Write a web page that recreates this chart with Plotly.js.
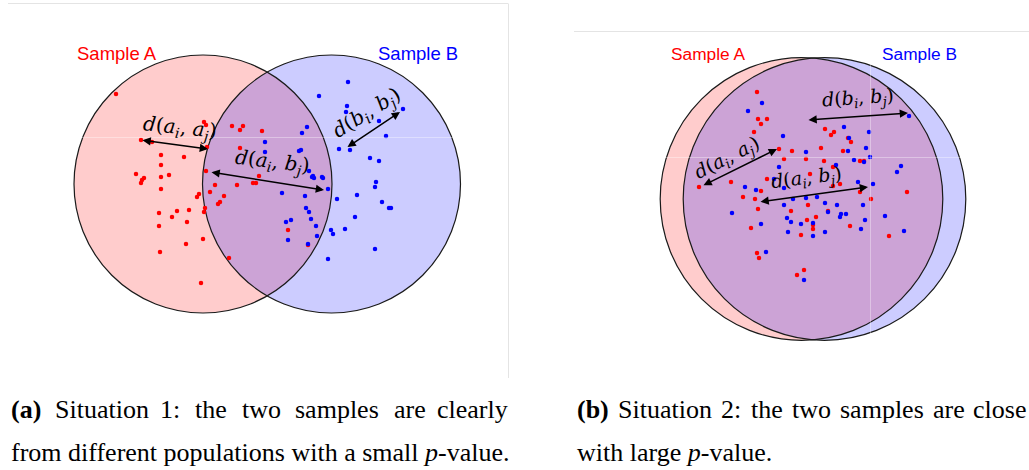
<!DOCTYPE html>
<html>
<head>
<meta charset="utf-8">
<script src="https://cdn.plot.ly/plotly-3.0.1.min.js"></script>
<style>
  html, body { margin: 0; padding: 0; background: #ffffff; }
  #chart { width: 1029px; height: 470px; }
</style>
</head>
<body>
<div id="chart"></div>
<script>
// ---- Situation 1: two separated samples ----
const circ1Cx = [203, 331.5];
const circ1Cy = [184, 184];
const circ1R = [129, 129];

const s1RedX = [116, 204, 206, 141, 152, 207, 232, 243, 240, 262, 161, 184, 240, 161, 136, 144, 142, 141, 161, 169,
                206, 259, 253, 256, 237, 215, 161, 199, 197, 210, 224, 220, 218, 159, 177, 189, 205, 204, 172, 187,
                159, 288, 203, 186, 308, 160, 229, 201];
const s1RedY = [94, 122, 125, 140, 142, 147, 126, 126, 130, 131, 155, 157, 148, 165, 174, 178, 180, 183, 177, 175,
                171, 176, 183, 183, 185, 185, 189, 194, 197, 192, 196, 202, 204, 213, 211, 210, 208, 212, 217, 222,
                226, 230, 239, 244, 245, 252, 258, 283];

const s1BlueX = [348, 319, 347, 346, 403, 379, 307, 302, 386, 265, 339, 350, 299, 301, 265, 370, 379, 309, 312, 314,
                 313, 322, 323, 328, 282, 305, 376, 375, 337, 357, 382, 389, 391, 306, 309, 311, 291, 286, 355, 316,
                 331, 333, 345, 317, 288, 308, 375, 328];
const s1BlueY = [82, 96, 106, 112, 109, 121, 127, 133, 136, 142, 149, 150, 151, 150, 152, 158, 161, 171, 177, 178,
                 176, 177, 178, 189, 193, 196, 182, 187, 199, 195, 202, 208, 208, 208, 212, 219, 220, 222, 217, 226,
                 230, 234, 229, 236, 240, 244, 249, 259];

// ---- Situation 2: two nearly coincident samples ----
const circ2Cx = [801.5, 824.5];
const circ2Cy = [199, 199];
const circ2R = [141.3, 141.3];

const s2RedX = [757, 758, 767, 761, 754, 825, 834, 831, 851, 848, 779, 792, 821, 843, 784, 806, 824, 860, 864, 833,
                699, 731, 767, 810, 833, 840, 860, 907, 743, 755, 761, 758, 808, 791, 816, 828, 871, 807, 813, 813,
                850, 751, 801, 889, 757, 759, 804, 797];
const s2RedY = [92, 119, 119, 124, 132, 129, 132, 135, 142, 138, 149, 151, 148, 151, 159, 159, 161, 161, 161, 167,
                187, 182, 179, 174, 186, 184, 192, 192, 197, 199, 191, 209, 205, 211, 217, 211, 199, 220, 225, 229,
                226, 228, 235, 236, 253, 258, 270, 275];

const s2BlueX = [762, 748, 783, 844, 849, 869, 806, 848, 866, 870, 854, 864, 779, 836, 901, 897, 774, 784, 745, 756,
                 858, 873, 732, 793, 806, 817, 825, 837, 784, 863, 828, 841, 846, 840, 787, 791, 801, 813, 761, 865,
                 885, 788, 813, 825, 861, 904, 766, 804, 909];
const s2BlueY = [103, 111, 136, 127, 138, 132, 152, 151, 148, 157, 160, 162, 167, 165, 166, 172, 179, 188, 187, 190,
                 182, 184, 213, 199, 198, 197, 203, 205, 205, 205, 212, 214, 214, 217, 218, 222, 224, 223, 224, 220,
                 216, 232, 236, 232, 229, 231, 252, 280, 116];

// ---- distance arrows (tail -> head, heads on both ends) ----
const arrowX0 = [141, 210, 346, 807, 702, 759];
const arrowY0 = [140, 172, 148, 120, 186, 202];
const arrowX1 = [208, 324, 400, 908, 777, 868];
const arrowY1 = [149, 190, 112, 113, 149, 187];

// distance labels
const distLabels = [
  '<i>d</i>(<i>a<sub>i</sub></i>, <i>a<sub>j</sub></i>)',
  '<i>d</i>(<i>a<sub>i</sub></i>, <i>b<sub>j</sub></i>)',
  '<i>d</i>(<i>b<sub>i</sub></i>, <i>b<sub>j</sub></i>)',
  '<i>d</i>(<i>b<sub>i</sub></i>, <i>b<sub>j</sub></i>)',
  '<i>d</i>(<i>a<sub>i</sub></i>, <i>a<sub>j</sub></i>)',
  '<i>d</i>(<i>a<sub>i</sub></i>, <i>b<sub>j</sub></i>)'
];
const distLabelX = [180, 272, 367, 858, 727, 806];
const distLabelY = [128, 162, 113, 98, 158, 178];
const distLabelAngle = [6, 7, -32, -4, -27, -7];
const distLabelSize = [20, 20, 20, 19, 19, 19];

// sample names
const sampleNames = ['Sample A', 'Sample B', 'Sample A', 'Sample B'];
const sampleNameX = [117, 417.5, 707.5, 919.5];
const sampleNameY = [53, 53, 54, 54];
const sampleNameSize = [18.5, 18.5, 17.3, 17.3];
const sampleColors = ['#ff0000', '#0000ff', '#ff0000', '#0000ff'];

// captions (first lines are justified word by word)
const capAWords = ['<b>(a)</b>', 'Situation', '1:', 'the', 'two', 'samples', 'are', 'clearly'];
const capAWordX = [9, 53, 158, 193, 240, 293, 392, 435];
const capALine2 = 'from different populations with a small <i>p</i>-value.';
const capBWords = ['<b>(b)</b>', 'Situation', '2:', 'the', 'two', 'samples', 'are', 'close'];
const capBWordX = [575, 616, 719, 749, 790, 838, 931, 971];
const capBLine2 = 'with large <i>p</i>-value.';

const W = 1029, H = 470;

function circleShapes(cx, cy, r, fills) {
  const out = [];
  for (let i = 0; i < cx.length; i++) {
    out.push({
      type: 'circle', xref: 'x', yref: 'y', layer: 'below',
      x0: cx[i] - r[i], x1: cx[i] + r[i], y0: cy[i] - r[i], y1: cy[i] + r[i],
      fillcolor: fills[i], line: { color: 'rgba(0,0,0,0)', width: 0 }
    });
  }
  for (let i = 0; i < cx.length; i++) {
    out.push({
      type: 'circle', xref: 'x', yref: 'y', layer: 'below',
      x0: cx[i] - r[i], x1: cx[i] + r[i], y0: cy[i] - r[i], y1: cy[i] + r[i],
      fillcolor: 'rgba(0,0,0,0)', line: { color: '#1a1a1a', width: 1.2 }
    });
  }
  return out;
}

const fills = ['rgba(255,0,0,0.2)', 'rgba(0,0,255,0.2)'];
const shapes = []
  .concat(circleShapes(circ1Cx, circ1Cy, circ1R, fills))
  .concat(circleShapes(circ2Cx, circ2Cy, circ2R, fills));

// faint panel frame lines
const frame = 'rgba(225,225,225,0.9)';
shapes.push({ type: 'line', xref: 'x', yref: 'y', x0: 8, x1: 508, y0: 3.5, y1: 3.5, line: { color: frame, width: 1 } });
shapes.push({ type: 'line', xref: 'x', yref: 'y', x0: 508.5, x1: 508.5, y0: 3.5, y1: 378, line: { color: frame, width: 1 } });
shapes.push({ type: 'line', xref: 'x', yref: 'y', x0: 574, x1: 1029, y0: 31.5, y1: 31.5, line: { color: frame, width: 1 } });
// light seams across the panels
const seam = 'rgba(255,255,255,0.35)';
shapes.push({ type: 'line', xref: 'x', yref: 'y', x0: 8, x1: 508, y0: 137.5, y1: 137.5, line: { color: seam, width: 1 } });
shapes.push({ type: 'line', xref: 'x', yref: 'y', x0: 574, x1: 1029, y0: 157.5, y1: 157.5, line: { color: seam, width: 1 } });
shapes.push({ type: 'line', xref: 'x', yref: 'y', x0: 870.5, x1: 870.5, y0: 32, y1: 378, line: { color: seam, width: 1 } });

const markerStyle = (c) => ({ color: c, size: 4.5, line: { width: 0 } });
const traces = [
  { x: s1RedX, y: s1RedY, type: 'scatter', mode: 'markers', marker: markerStyle('#ff0000'), hoverinfo: 'skip' },
  { x: s1BlueX, y: s1BlueY, type: 'scatter', mode: 'markers', marker: markerStyle('#0000ff'), hoverinfo: 'skip' },
  { x: s2RedX, y: s2RedY, type: 'scatter', mode: 'markers', marker: markerStyle('#ff0000'), hoverinfo: 'skip' },
  { x: s2BlueX, y: s2BlueY, type: 'scatter', mode: 'markers', marker: markerStyle('#0000ff'), hoverinfo: 'skip' }
];

const annotations = [];
for (let i = 0; i < arrowX0.length; i++) {
  annotations.push({
    x: arrowX1[i], y: arrowY1[i], ax: arrowX0[i], ay: arrowY0[i],
    xref: 'x', yref: 'y', axref: 'x', ayref: 'y',
    text: '', showarrow: true, arrowside: 'end+start',
    arrowhead: 2, startarrowhead: 2, arrowsize: 1.1, startarrowsize: 1.1,
    arrowwidth: 1.5, arrowcolor: '#000000', standoff: 0, startstandoff: 0
  });
}
for (let i = 0; i < distLabels.length; i++) {
  annotations.push({
    x: distLabelX[i], y: distLabelY[i], xref: 'x', yref: 'y',
    text: distLabels[i], showarrow: false, textangle: distLabelAngle[i],
    xanchor: 'center', yanchor: 'middle',
    font: { family: 'DejaVu Serif', size: distLabelSize[i], color: '#000000' }
  });
}
for (let i = 0; i < sampleNames.length; i++) {
  annotations.push({
    x: sampleNameX[i], y: sampleNameY[i], xref: 'x', yref: 'y',
    text: sampleNames[i], showarrow: false, xanchor: 'center', yanchor: 'middle',
    font: { family: 'Liberation Sans', size: sampleNameSize[i], color: sampleColors[i] }
  });
}
const capFont = { family: 'Liberation Serif', size: 26, color: '#000000' };
function addWords(words, xs, y) {
  for (let i = 0; i < words.length; i++) {
    annotations.push({ x: xs[i], y: y, xref: 'x', yref: 'y', text: words[i], showarrow: false,
      xanchor: 'left', yanchor: 'middle', font: capFont });
  }
}
addWords(capAWords, capAWordX, 409);
addWords(capBWords, capBWordX, 409);
annotations.push({ x: 9, y: 452, xref: 'x', yref: 'y', text: capALine2, showarrow: false,
  xanchor: 'left', yanchor: 'middle', font: capFont });
annotations.push({ x: 575, y: 452, xref: 'x', yref: 'y', text: capBLine2, showarrow: false,
  xanchor: 'left', yanchor: 'middle', font: capFont });

const layout = {
  width: W, height: H,
  margin: { l: 0, r: 0, t: 0, b: 0, pad: 0 },
  paper_bgcolor: '#ffffff', plot_bgcolor: '#ffffff',
  showlegend: false,
  xaxis: { range: [0, W], visible: false, fixedrange: true },
  yaxis: { range: [H, 0], visible: false, fixedrange: true },
  shapes: shapes,
  annotations: annotations
};

Plotly.newPlot('chart', traces, layout, { staticPlot: true, displayModeBar: false });
</script>
</body>
</html>
